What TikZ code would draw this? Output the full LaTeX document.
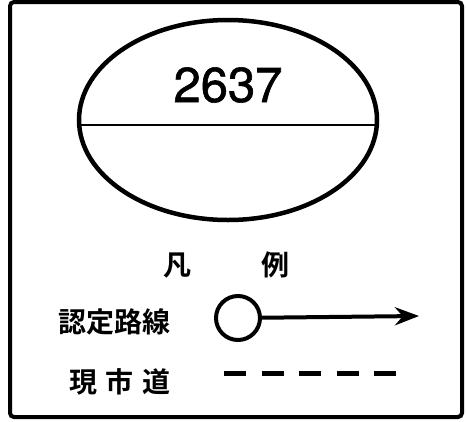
\documentclass[tikz,border=0pt]{standalone}
\usepackage{fontspec}
\setmainfont{TeX Gyre Heros}[FakeBold=1.2]
\newfontfamily\jpfont{Noto Sans CJK JP Bold}
\usetikzlibrary{arrows.meta, shapes.geometric}

\begin{document}
\begin{tikzpicture}[x=1pt, y=-1pt,
  frame/.style={draw, line width=4pt, rounded corners=4pt},
  label/.style={font=\jpfont\fontsize{28}{28}\selectfont, inner sep=0pt},
  route/.style={line width=4pt, -{Stealth[length=24pt, width=18pt]}}
]
\useasboundingbox (0,0) rectangle (466,421);

% Frame
\draw[frame] (10,2) rectangle (462,417);

% Route number
\node[draw, ellipse, line width=4.5pt, minimum width=298pt, minimum height=200pt, inner sep=0pt] (oval) at (228,120) {};
\draw[line width=2pt] (oval.west |- 0,125) coordinate (ml) -- (oval.east |- 0,125) coordinate (mr);
\node[font=\fontsize{49}{49}\selectfont] (num) at (228,85) {2637};

% Legend
\node[label] (lgd1) at (177,266) {凡};
\node[label] (lgd2) at (275,265) {例};

\node[label] (nintei) at (114,322) {認定路線};
\node[draw, circle, line width=4pt, minimum size=44pt, inner sep=0pt] (ring) at (238,318) {};
\coordinate (tip) at (419,316);
\draw[route] (ring) -- (tip);

\node[label] (shido) at (120,382) {現\hspace{9pt}市\hspace{9pt}道};
\coordinate (ds) at (224,373);
\coordinate (de) at (396,373);
\draw[line width=5pt, dash pattern=on 22pt off 15.5pt] (ds) -- (de);

\end{tikzpicture}
\end{document}
